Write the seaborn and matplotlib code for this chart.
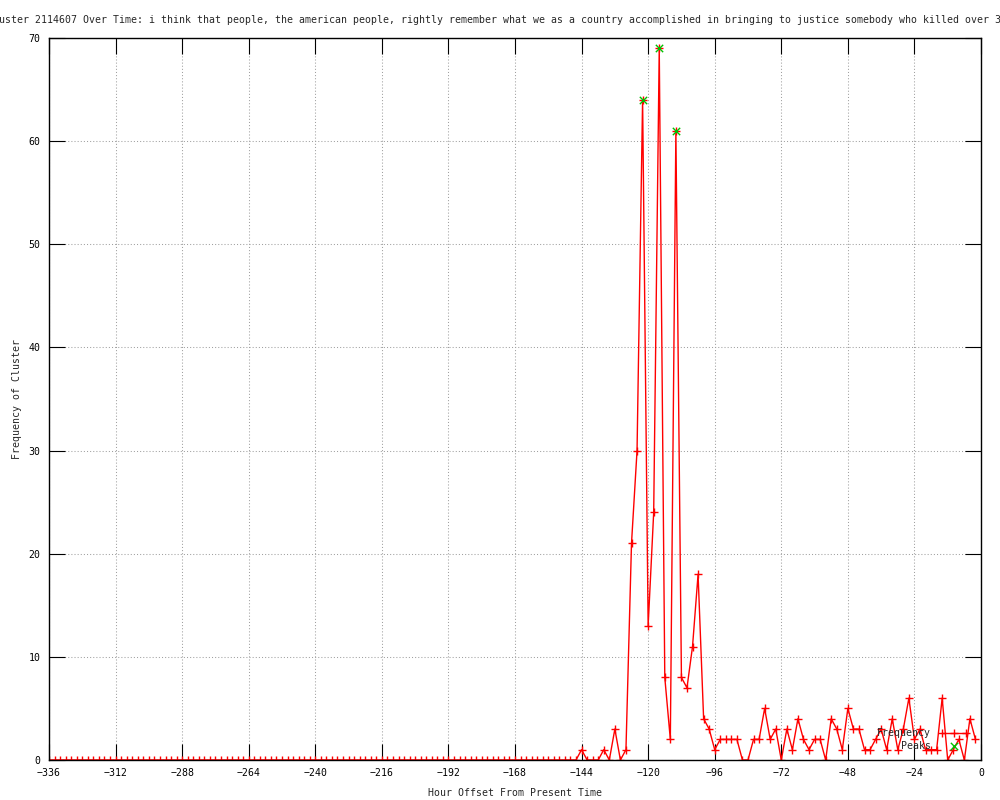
#!/usr/bin/env python3

import matplotlib as mpl
mpl.use('Agg')
import matplotlib.pyplot as plt
import numpy as np
import seaborn as sns

sns.set_style("ticks")
plt.rcParams['font.family'] = ['DejaVu Sans Mono', 'DejaVu Sans']


########## DATA ###########
title = ("Frequency of Cluster 2114607 Over Time: i think that people, the american people, "
         "rightly remember what we as a country accomplished in bringing to justice somebody "
         "who killed over 3,000 of our citizens")

# hourly bins, every 2 hours from -336 to -2
hours = np.arange(-336, 0, 2)
freq = [
    # -336 .. -290
    0, 0, 0, 0, 0, 0, 0, 0, 0, 0, 0, 0, 0, 0, 0, 0, 0, 0, 0, 0, 0, 0, 0, 0,
    # -288 .. -242
    0, 0, 0, 0, 0, 0, 0, 0, 0, 0, 0, 0, 0, 0, 0, 0, 0, 0, 0, 0, 0, 0, 0, 0,
    # -240 .. -194
    0, 0, 0, 0, 0, 0, 0, 0, 0, 0, 0, 0, 0, 0, 0, 0, 0, 0, 0, 0, 0, 0, 0, 0,
    # -192 .. -146
    0, 0, 0, 0, 0, 0, 0, 0, 0, 0, 0, 0, 0, 0, 0, 0, 0, 0, 0, 0, 0, 0, 0, 0,
    # -144 .. -128
    1, 0, 0, 0, 1, 0, 3, 0, 1,
    # -126 .. -96
    21, 30, 64, 13, 24, 69, 8, 2, 61, 8, 7, 11, 18, 4, 3, 1,
    # -94 .. -72
    2, 2, 2, 2, 0, 0, 2, 2, 5, 2, 3, 0,
    # -70 .. -2
    3, 1, 4, 2, 1, 2, 2, 0, 4, 3, 1, 5, 3, 3, 1, 1, 2, 3, 1, 4, 1, 3, 6, 2,
    3, 1, 1, 1, 6, 0, 1, 2, 0, 4, 2,
]

peak_hours = [-122, -116, -110]
peak_vals = [64, 69, 61]


########## PLOT ###########
fig = plt.figure(figsize=(10, 8), dpi=100)
ax = fig.add_axes([0.049, 0.05, 0.932, 0.9025])

sns.lineplot(x=hours, y=freq, ax=ax, color='#ff0000', lw=1, marker='+',
             markersize=5.5, markeredgewidth=1, markeredgecolor='#ff0000',
             label='Frequency', zorder=2)
sns.scatterplot(x=peak_hours, y=peak_vals, ax=ax, marker='x', color='#00c000',
                s=28, linewidth=1, label='Peaks', zorder=3)

ax.set_xlim(-336, 0)
ax.set_ylim(0, 70)
ax.set_xticks(np.arange(-336, 1, 24))
ax.set_yticks(np.arange(0, 71, 10))

fs = 7.1
ax.tick_params(direction='in', length=11.5, width=0.8, top=True, right=True,
               labelsize=fs, pad=6, colors='black')
ax.grid(True, color='#a0a0a0', ls=(0, (1, 2)), lw=0.75)
ax.set_axisbelow(True)
for s in ax.spines.values():
    s.set_color('black')
    s.set_linewidth(1)

# title is wider than the canvas, like the original: clipped on both sides
ax.set_title(title, fontsize=fs, pad=11)
ax.set_xlabel('Hour Offset From Present Time', fontsize=fs, labelpad=7)
ax.set_ylabel('Frequency of Cluster', fontsize=fs, labelpad=5)

h, l = ax.get_legend_handles_labels()
ax.legend(h, l, loc='lower right', bbox_to_anchor=(0.995, 0.003), frameon=False,
          markerfirst=False, numpoints=3, scatterpoints=1, handlelength=3.1,
          handletextpad=0.8, labelspacing=0.3, fontsize=fs, borderaxespad=0.3)

fig.savefig('out.png', dpi=100)
